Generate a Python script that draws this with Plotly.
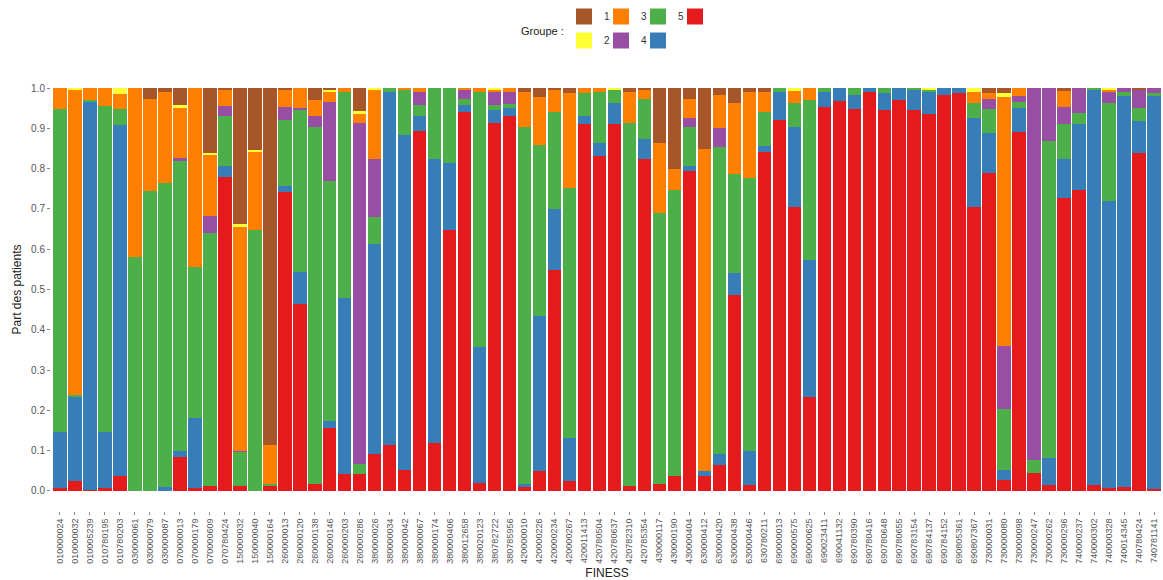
import plotly.graph_objects as go

finess = [
    "010000024", "010000032", "010005239", "010780195", "010780203", "030000061", "030000079", "030000087",
    "070000013", "070000179", "070000609", "070780424", "150000032", "150000040", "150000164", "260000013",
    "260000120", "260000138", "260000146", "260000203", "260000286", "380000026", "380000034", "380000042",
    "380000067", "380000174", "380000406", "380012658", "380020123", "380782722", "380785956", "420000010",
    "420000226", "420000234", "420000267", "420011413", "420780504", "420780637", "420782310", "420785354",
    "430000117", "430000190", "430000404", "630000412", "630000420", "630000438", "630000446", "630780211",
    "690000013", "690000575", "690000625", "690023411", "690041132", "690780390", "690780416", "690780648",
    "690780655", "690783154", "690784137", "690784152", "690805361", "690807367", "730000031", "730000080",
    "730000098", "730000247", "730000262", "730000296", "740000237", "740000302", "740000328", "740014345",
    "740780424", "740781141",
]

# Share of patients per group, one value per FINESS
g7 = [.008, .025, .003, .008, .036, 0, 0, 0, .083, .008, .012, .780, .012, 0, .014, .741,
      .465, .017, .157, .043, .043, .091, .114, .051, .894, .120, .647, .941, .020, .914, .930, .010,
      .050, .548, .025, .912, .831, .912, .012, .824, .017, .036, .795, .036, .064, .486, .014, .842,
      .922, .705, .232, .954, .969, .947, .991, .945, .970, .945, .937, .983, .987, .705, .790, .028,
      .892, .045, .014, .726, .747, .014, .008, .010, .838, .005]
g6 = [.139, .207, .962, .139, .872, 0, 0, .010, .015, .174, 0, .027, 0, 0, 0, .017,
      .078, 0, .016, .435, 0, .521, .877, .832, .036, .703, .166, .017, .338, .031, .020, .007,
      .384, .151, .107, .019, .034, .052, 0, .049, 0, 0, .011, .014, .027, .054, .085, .015,
      .069, .199, .341, .037, .031, .036, .009, .042, .030, .050, .054, .017, .013, .220, .099, .023,
      .058, 0, .068, .098, .163, .981, .712, .970, .081, .975]
g5 = [.800, .005, .005, .808, .040, .580, .745, .755, .722, .373, .628, .123, .085, .648, .004, .164,
      .404, .887, .596, .513, .023, .068, .009, .114, .028, .177, .187, .014, .633, .014, .010, .887,
      .424, .242, .619, .056, .126, .033, .902, .101, .672, .711, .098, 0, .762, .248, .679, .084,
      .009, .060, .397, .009, 0, .017, 0, .013, 0, .005, .006, 0, 0, .039, .058, .153,
      .016, .031, .786, .086, .029, .005, .244, .011, .031, .007]
g4 = [0, 0, 0, 0, 0, 0, 0, 0, .006, 0, .043, .025, .003, 0, 0, .030,
      .003, .026, .197, 0, .848, .143, 0, 0, .033, 0, 0, .024, 0, .032, .031, 0,
      0, 0, 0, 0, 0, 0, 0, 0, 0, 0, .023, 0, .049, 0, 0, 0,
      0, 0, 0, 0, 0, 0, 0, 0, 0, 0, 0, 0, 0, 0, .025, .156,
      .014, .924, .132, .044, .061, 0, .027, .009, .045, .013]
g3 = [.053, .760, .030, .045, .037, .420, .227, .225, .124, .445, .152, .040, .555, .195, .097, .043,
      .050, .040, .025, .009, .023, .174, 0, .003, .009, 0, 0, .004, .009, .006, .009, .087,
      .120, .054, .236, .013, .009, 0, .077, .021, .175, .053, .047, .800, .081, .176, .213, .050,
      0, .030, .030, 0, 0, 0, 0, 0, 0, 0, 0, 0, 0, .027, .016, .617,
      .020, 0, 0, .039, 0, 0, .005, 0, 0, 0]
g2 = [0, .003, 0, 0, .015, 0, 0, 0, .008, 0, .003, 0, .007, .003, 0, 0,
      0, 0, .005, 0, .007, .003, 0, 0, 0, 0, 0, 0, 0, .003, 0, 0,
      0, 0, 0, 0, 0, .003, 0, 0, 0, 0, 0, 0, 0, 0, 0, 0,
      0, .006, 0, 0, 0, 0, 0, 0, 0, 0, .003, 0, 0, .009, 0, .010,
      0, 0, 0, 0, 0, 0, .004, 0, 0, 0]
g1 = [0, 0, 0, 0, 0, 0, .028, .010, .042, 0, .162, .005, .338, .154, .885, .005,
      0, .030, .004, 0, .056, 0, 0, 0, 0, 0, 0, 0, 0, 0, 0, .009,
      .022, .005, .013, 0, 0, 0, .009, .005, .136, .200, .026, .150, .017, .036, .009, .009,
      0, 0, 0, 0, 0, 0, 0, 0, 0, 0, 0, 0, 0, 0, .012, .013,
      0, 0, 0, .007, 0, 0, 0, 0, .005, 0]

groups = ["7", "6", "5", "4", "3", "2", "1"]
values = [g7, g6, g5, g4, g3, g2, g1]
colors = ["#E41A1C", "#377EB8", "#4DAF4A", "#984EA3", "#FF7F00", "#FFFF33", "#A65628"]

fig = go.Figure()
for name, vals, col in zip(groups, values, colors):
    fig.add_trace(go.Bar(
        x=finess, y=vals, name=name,
        marker=dict(color=col, line=dict(width=0)),
        showlegend=False,
    ))

# legend keys (square swatches), 1/3/5/7 on first row, 2/4/6 on second
for name, col in sorted(zip(groups, colors), key=lambda t: int(t[0])):
    fig.add_trace(go.Scatter(
        x=[None], y=[None], mode="markers", name=name,
        marker=dict(symbol="square", size=16, color=col),
        legend="legend" if name in "1357" else "legend2",
        legendrank=int(name), hoverinfo="skip",
    ))

W, H = 1163, 580
L, R, T, B = 51, 0, 68, 69
pw, ph = W - L - R, H - T - B

def px_x(p):
    return (p - L) / pw

def px_y(p):
    return 1 + (T - p) / ph

legend_common = dict(
    orientation="h", xanchor="left", yanchor="top", traceorder="normal",
    font=dict(family="Liberation Sans, Arial, sans-serif", size=10, color="#333333"),
    bgcolor="rgba(0,0,0,0)", itemwidth=30, tracegroupgap=0,
    entrywidthmode="fraction", entrywidth=37 / pw, itemsizing="trace",
)

fig.update_layout(
    width=W, height=H,
    margin=dict(l=L, r=R, t=T, b=B, autoexpand=False),
    barmode="stack", bargap=0.1,
    plot_bgcolor="white", paper_bgcolor="white",
    font=dict(family="Liberation Sans, Arial, sans-serif", color="#333333"),
    legend=dict(legend_common, x=px_x(564), y=px_y(2)),
    legend2=dict(legend_common, x=px_x(564), y=px_y(26)),
    xaxis=dict(
        type="category", range=[-0.6, 73.6],
        tickangle=-90, tickfont=dict(size=9, color="#555555"),
        ticks="outside", ticklen=3, tickcolor="#888888", tickwidth=1,
        showgrid=False, showline=False, zeroline=False,
        title=dict(text="FINESS", font=dict(size=12, color="#222222"), standoff=5),
    ),
    yaxis=dict(
        range=[-0.05, 1.05], tick0=0, dtick=0.1, tickformat=".1f",
        tickfont=dict(size=10, color="#555555"),
        ticks="outside", ticklen=3, tickcolor="#888888", tickwidth=1,
        showgrid=False, showline=False, zeroline=False,
        title=dict(text="Part des patients", font=dict(size=12, color="#222222"), standoff=6),
    ),
    annotations=[dict(
        text="Groupe :", xref="paper", yref="paper",
        x=px_x(566), y=px_y(31), xanchor="right", yanchor="middle",
        showarrow=False, font=dict(size=11, color="#222222"),
    )],
)

fig.write_html("out.html", config={"displayModeBar": False},
               post_script="document.body.style.margin='0';")
